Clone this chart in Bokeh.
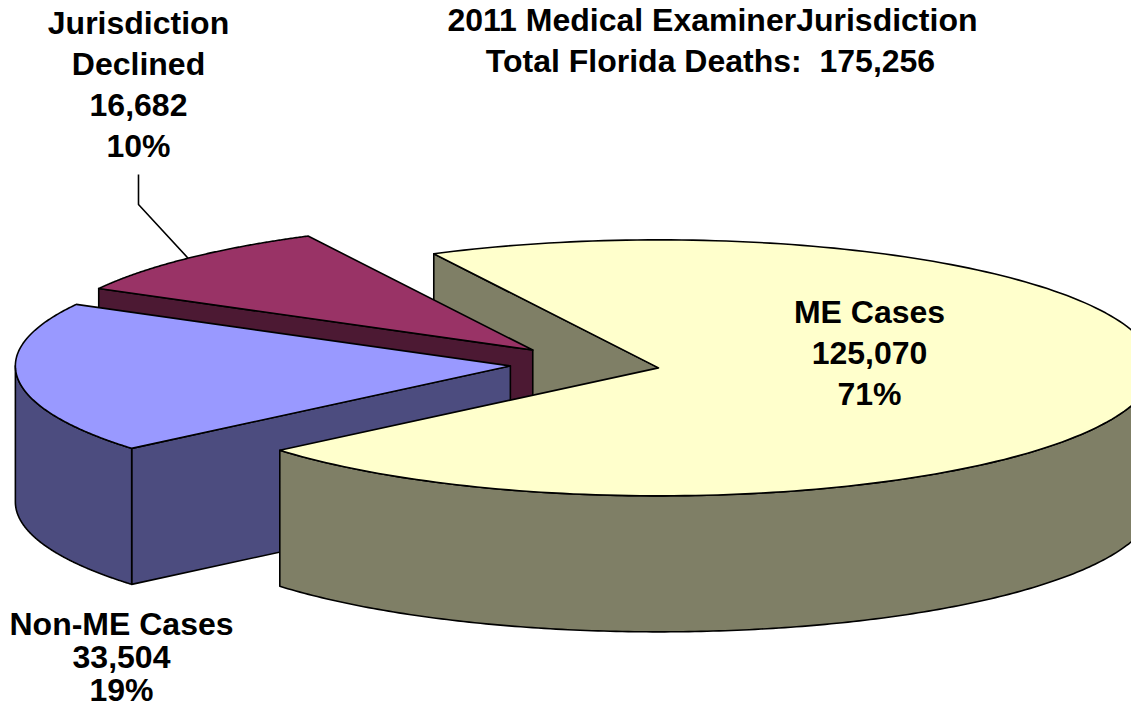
import numpy as np
from bokeh.plotting import figure
from bokeh.models import Range1d
from bokeh.core.properties import value
from bokeh.embed import file_html
from bokeh.resources import INLINE

# ---------------- data ----------------
categories = ["ME Cases", "Non-ME Cases", "Jurisdiction Declined"]
counts = [125070, 33504, 16682]
label_names = [["ME Cases"], ["Non-ME Cases"], ["Jurisdiction", "Declined"]]
title_line1 = "2011 Medical ExaminerJurisdiction"
title_line2_prefix = "Total Florida Deaths:\u00a0 "

top_colors = ["#FFFFCC", "#9999FF", "#993366"]
side_colors = ["#7F7F66", "#4C4C7F", "#4C1933"]

# ---------------- layout (screen-pixel coordinates, y down) ----------------
CX, CY = 584.5, 363.5      # pie centre
A, B = 495.0, 128.0        # ellipse radii
DEPTH = 136.0              # thickness
EXPLODE = 75.0             # explode distance
START = 117.0              # angle where first slice begins (clockwise)
FONT = value("Liberation Sans")
FSIZE = "32px"
TXT_SHIFT = -12.0          # baseline correction for svg text

total = sum(counts)
fracs = [c / total for c in counts]
pcts = [int(round(f * 100)) for f in fracs]

# slice angular intervals (ccw lo..hi), going clockwise from START
slices = []
hi = START
for f in fracs:
    lo = hi - f * 360.0
    mid = 0.5 * (lo + hi)
    ax = CX + EXPLODE * np.cos(np.radians(mid))
    ay = CY - EXPLODE * (B / A) * np.sin(np.radians(mid))
    slices.append(dict(lo=lo, hi=hi, mid=mid, ax=ax, ay=ay))
    hi = lo


def rim(s, t, dz=0.0):
    t = np.radians(t)
    return s["ax"] + A * np.cos(t), s["ay"] - B * np.sin(t) + dz


def top_face(s):
    ts = np.linspace(s["lo"], s["hi"], 200)
    x, y = rim(s, ts)
    return [s["ax"]] + list(x), [s["ay"]] + list(y)


def radial_face(s, t):
    x0, y0 = rim(s, t)
    return ([s["ax"], x0, x0, s["ax"]],
            [s["ay"], y0, y0 + DEPTH, s["ay"] + DEPTH])


def outer_wall(s, t0, t1):
    ts = np.linspace(t0, t1, 200)
    xt, yt = rim(s, ts)
    xb, yb = rim(s, ts[::-1], DEPTH)
    return list(xt) + list(xb), list(yt) + list(yb)


me, nonme, decl = slices

xs, ys, fills = [], [], []


def add(poly, color):
    xs.append(list(poly[0]))
    ys.append(list(poly[1]))
    fills.append(color)


# painter's order: back to front (faces at each slice's counter-clockwise end)
add(radial_face(me, me["hi"]), side_colors[0])
add(radial_face(decl, decl["hi"]), side_colors[2])
add(top_face(decl), top_colors[2])
add(radial_face(nonme, nonme["hi"]), side_colors[1])
# non-ME outer wall: front part between 180 deg and its ccw end
nlo = nonme["lo"] + 360 if nonme["lo"] < 0 else nonme["lo"]
nhi = nlo + (nonme["hi"] - nonme["lo"])
add(outer_wall(nonme, max(nlo, 180.0), nhi), side_colors[1])
add(top_face(nonme), top_colors[1])
# ME outer wall: front part from its cw end up to 0 deg
add(outer_wall(me, me["lo"], min(me["hi"], 0.0)), side_colors[0])
add(top_face(me), top_colors[0])

p = figure(width=1131, height=709,
           x_range=Range1d(0, 1131), y_range=Range1d(709, 0),
           output_backend="svg", toolbar_location=None, min_border=0)
p.axis.visible = False
p.grid.visible = False
p.outline_line_color = None
p.background_fill_color = "white"

p.patches(xs, ys, fill_color=fills, line_color="black", line_width=1.6,
          line_join="round")

# leader line for the declined slice (ends on its rim at mid angle)
lx, ly = rim(decl, decl["mid"])
DECL_LX = 138.0
p.line([DECL_LX, DECL_LX, lx], [174.0, 204.0, ly], line_color="black", line_width=1.6)

# ---------------- texts ----------------
tx, ty, tt = [], [], []
# title
tx += [712.0, 710.0]
ty += [31.7 + TXT_SHIFT, 72.7 + TXT_SHIFT]
tt += [title_line1, f"{title_line2_prefix}{total:,}"]

label_pos = [(869.0, 323.5, 41.0), (121.0, 635.0, 33.0), (DECL_LX, 34.3, 41.0)]
for i in range(3):
    lines = label_names[i] + [f"{counts[i]:,}", f"{pcts[i]}%"]
    x0, y0, step = label_pos[i]
    for k, s in enumerate(lines):
        tx.append(x0)
        ty.append(y0 + k * step + TXT_SHIFT)
        tt.append(s)

p.text(x=tx, y=ty, text=tt, text_font=FONT, text_font_style="bold",
       text_font_size=FSIZE, text_align="center", text_baseline="alphabetic",
       text_color="black")

open("out.html", "w").write(file_html(p, INLINE))
